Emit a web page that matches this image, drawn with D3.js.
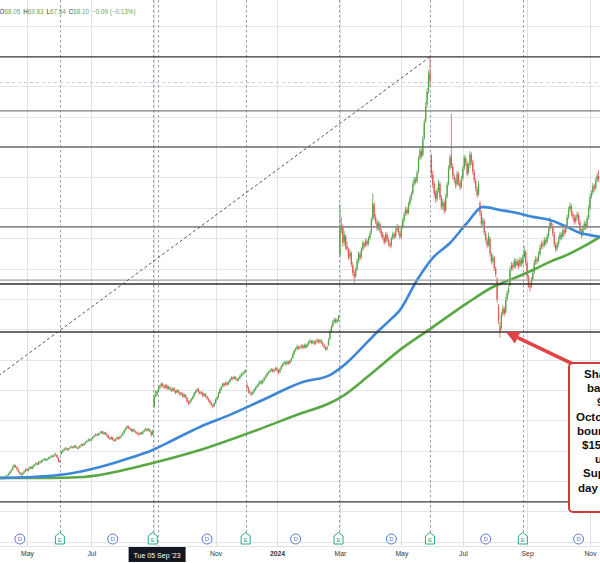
<!DOCTYPE html>
<html><head><meta charset="utf-8">
<script src="https://cdn.jsdelivr.net/npm/d3@7"></script>
<style>html,body{margin:0;padding:0;background:#fff;overflow:hidden}</style>
</head><body><svg id="c" width="600" height="563"></svg>
<script>
// ---- DATA (daily bars, index 0 = early April 2023) ----
const opens=[40.7,41.1,41.2,40.9,41.1,41.6,41.9,42.4,43.1,43.7,
44.6,45.1,44.5,43.7,42.9,42.3,42.1,42.7,43.3,43.9,
43.4,44.1,44.7,44.1,44.9,45.4,45.9,45.4,46.3,46.1,
46.5,47.0,47.2,46.9,47.3,47.5,48.0,48.2,48.1,48.7,
48.6,47.7,46.6,48.9,49.6,50.1,50.5,50.7,50.3,50.7,
51.1,51.2,51.0,51.6,51.1,50.7,51.1,51.7,52.1,51.8,
52.4,52.9,53.3,53.7,53.4,54.0,54.5,55.0,55.4,55.1,
55.6,55.9,56.3,55.5,56.0,55.3,54.9,54.3,53.8,54.3,
53.5,53.3,53.9,54.4,54.0,54.6,55.1,55.9,56.7,57.4,
58.0,57.4,57.1,56.4,57.0,56.3,56.1,55.5,55.4,56.0,
55.6,56.3,56.9,57.1,56.7,56.9,56.2,55.3,64.5,68.05,
68.3,69.6,70.7,71.3,71.9,71.3,70.9,71.4,70.5,70.8,
70.1,69.9,70.4,69.5,69.2,69.8,69.1,68.6,68.8,67.9,
68.3,67.4,66.1,65.7,66.5,67.1,67.9,69.0,69.7,70.1,
69.3,68.9,69.0,68.1,68.5,67.8,67.1,66.4,65.7,64.9,
64.7,65.7,66.9,67.6,69.0,70.3,71.1,72.0,71.7,72.3,
71.9,72.7,73.5,74.0,73.8,74.2,73.5,73.2,73.9,74.6,
75.1,75.5,76.1,71.5,70.7,69.5,68.9,68.7,69.4,70.2,
70.9,71.5,72.1,72.7,72.4,73.2,74.0,74.7,75.5,76.0,
76.4,76.7,76.2,76.7,77.1,76.3,75.9,77.0,77.9,78.7,
79.0,78.6,79.2,78.9,79.7,80.6,81.9,83.0,83.6,84.2,
83.8,84.1,84.5,84.0,84.7,84.2,85.0,85.7,86.1,85.6,
85.9,85.3,86.0,86.3,85.8,86.2,85.5,84.7,84.0,83.5,
84.8,86.8,89.4,91.0,92.5,93.2,92.4,93.1,114.5,123.0,
123.8,118.8,120.6,117.4,116.2,114.0,115.0,111.1,108.3,107.5,
109.8,112.6,114.6,113.8,116.4,118.2,117.7,119.0,118.3,120.0,
121.8,126.4,130.8,126.8,125.2,123.4,124.6,122.3,121.2,120.0,
118.9,121.1,119.4,118.0,117.7,120.0,121.2,120.7,122.8,123.6,
121.7,120.6,123.7,126.0,128.1,129.4,128.5,131.4,133.2,134.8,
138.0,139.2,138.8,142.0,146.5,148.6,147.4,153.0,158.6,164.0,
168.6,174.5,146.8,141.0,137.8,134.9,133.0,135.7,137.9,133.4,
130.5,131.6,129.3,133.7,138.0,143.2,147.0,143.6,140.2,139.0,
137.8,141.0,138.2,137.0,139.8,143.0,146.2,144.6,141.6,144.0,
147.4,145.0,141.8,138.8,136.2,134.5,131.5,128.1,124.9,125.5,
121.6,119.2,117.9,119.8,114.7,112.6,113.3,109.9,106.5,97.5,
91.0,90.5,95.2,96.6,95.6,99.9,102.1,104.5,109.9,111.0,
110.6,112.3,111.2,112.1,111.0,112.7,111.8,114.0,115.3,111.7,
107.1,104.4,104.1,106.4,108.8,112.0,113.0,112.7,114.8,117.0,
118.0,117.7,119.2,118.8,120.7,123.0,124.9,124.0,121.2,117.8,
116.6,118.0,119.8,121.0,120.6,122.4,122.0,123.7,127.0,129.6,
130.4,128.0,126.9,125.6,126.8,127.6,125.3,122.2,121.2,123.4,
124.6,123.8,126.7,130.0,133.7,135.0,137.0,136.6,139.1,140.4];
const highs=[41.4,41.7,41.5,41.5,41.8,42.1,42.6,43.3,43.9,44.9,
45.6,45.4,44.8,44.0,43.2,42.7,42.9,43.5,44.1,44.2,
44.3,44.9,44.9,45.1,45.6,46.1,46.1,46.5,46.6,46.9,
47.2,47.6,47.5,47.5,47.9,48.2,48.6,48.5,48.9,49.3,
48.8,47.9,47.0,50.0,50.5,50.8,51.2,51.0,50.9,51.4,
51.7,51.5,51.8,51.9,51.4,51.3,51.9,52.4,52.3,52.6,
53.1,53.6,54.0,53.9,54.2,54.8,55.3,55.7,55.6,55.9,
56.3,56.7,56.5,56.2,56.2,55.6,55.1,54.5,54.7,54.6,
53.8,54.1,54.7,54.6,54.9,55.4,56.1,57.0,57.7,58.4,
58.2,57.7,57.3,57.2,57.2,56.6,56.3,55.8,56.2,56.2,
56.5,57.1,57.6,57.4,57.4,57.2,56.5,56.9,68.5,69.83,
69.9,71.2,71.8,72.6,72.3,71.7,72.0,71.8,71.4,71.2,
70.6,70.9,70.8,69.9,70.3,70.1,69.5,69.4,69.1,68.8,
68.6,67.7,66.5,66.8,67.4,68.2,69.3,70.0,70.7,70.5,
69.7,69.6,69.3,69.0,68.9,68.1,67.4,66.7,66.0,65.3,
66.0,67.2,67.9,69.3,70.6,71.4,72.5,72.4,72.8,72.7,
73.0,73.8,74.5,74.4,74.7,74.5,73.9,74.2,74.9,75.6,
75.9,76.5,76.9,72.4,71.1,69.9,69.2,69.7,70.5,71.2,
71.8,72.4,73.2,73.1,73.5,74.3,75.0,75.8,76.3,76.8,
77.3,77.1,77.0,77.7,77.5,76.7,77.3,78.2,79.0,79.6,
79.4,79.7,79.6,80.0,80.8,82.3,83.4,84.0,84.9,84.6,
84.5,85.1,84.9,85.3,85.1,85.4,86.1,86.8,86.5,86.5,
86.3,86.4,87.0,86.7,86.9,86.6,85.9,85.1,84.4,84.6,
87.0,89.8,91.4,93.0,93.8,93.6,93.6,94.7,131.2,126.8,
124.5,122.4,121.3,118.9,116.9,116.3,115.6,112.0,109.4,110.4,
113.3,115.6,115.4,117.0,119.2,118.9,120.0,119.6,120.6,122.3,
126.8,134.8,131.6,127.9,126.0,125.7,125.3,123.1,122.0,120.8,
122.1,121.9,120.2,118.8,120.6,122.2,121.9,123.4,124.7,124.3,
122.5,124.3,126.6,128.8,130.4,130.2,132.0,133.9,135.4,138.7,
140.3,140.1,142.4,147.1,149.8,149.4,153.5,159.2,164.8,169.4,
175.2,179.7,147.9,142.2,138.6,135.8,136.6,139.3,138.7,134.2,
132.9,132.4,134.5,138.6,143.9,147.6,160.9,144.6,141.0,139.8,
142.2,141.8,139.0,140.6,143.8,147.5,147.0,145.4,144.8,148.7,
148.2,145.8,142.6,139.6,137.0,138.9,132.3,128.9,126.9,126.3,
122.4,120.0,121.9,120.5,115.5,114.7,114.1,110.7,107.2,98.4,
92.4,95.8,97.9,97.4,100.6,102.8,104.5,110.6,112.2,111.8,
113.5,113.1,113.3,112.9,113.9,113.5,114.8,117.4,116.1,112.5,
107.9,105.3,107.2,109.5,112.8,114.2,113.8,115.6,117.8,119.2,
118.8,120.4,120.0,121.5,123.8,127.0,125.7,124.8,122.0,118.6,
118.8,120.6,122.2,121.8,123.6,123.2,124.5,127.8,130.4,131.8,
131.2,128.8,127.7,127.6,128.8,128.4,126.1,123.0,124.2,125.8,
125.4,127.5,130.8,134.5,135.8,138.2,137.8,139.9,141.6,142.4];
const lows=[40.4,40.8,40.5,40.6,40.9,41.3,41.7,42.1,42.8,43.5,
44.3,44.3,43.5,42.7,42.0,41.7,41.9,42.4,43.0,43.2,
43.2,43.8,43.9,43.9,44.6,45.1,45.2,45.2,45.7,45.8,
46.3,46.7,46.5,46.6,47.0,47.3,47.7,47.7,47.9,48.4,
47.5,46.2,45.9,48.5,49.2,49.8,50.2,49.9,50.0,50.4,
50.8,50.6,50.8,50.9,50.5,50.4,50.9,51.4,51.4,51.6,
52.1,52.6,53.0,53.0,53.2,53.7,54.2,54.7,54.7,54.8,
55.3,55.6,55.3,55.2,55.1,54.5,53.9,53.5,53.6,53.3,
52.9,53.0,53.6,53.6,53.8,54.3,54.9,55.6,56.4,57.1,
57.1,56.7,56.2,56.1,56.1,55.7,55.3,54.9,55.1,55.2,
55.3,56.0,56.6,56.3,56.4,56.0,54.6,55.0,64.0,67.54,
68.0,69.2,70.2,70.9,70.8,70.3,70.5,70.0,70.1,69.8,
69.3,69.5,69.2,68.6,68.9,68.8,68.1,68.2,67.4,67.5,
67.1,65.8,65.0,65.3,66.1,66.8,67.6,68.6,69.3,69.0,
68.4,68.5,67.6,67.7,67.5,66.8,66.1,65.4,64.6,63.9,
64.3,65.4,66.5,67.3,68.7,69.9,70.8,71.1,71.3,71.4,
71.6,72.3,73.1,73.2,73.4,73.2,72.7,72.9,73.5,74.2,
74.7,75.1,75.6,70.1,68.9,68.4,68.0,68.3,69.0,69.8,
70.5,71.1,71.7,71.8,72.0,72.8,73.6,74.3,75.1,75.6,
76.0,75.6,75.8,76.3,75.9,75.2,75.5,76.6,77.5,78.3,
78.0,78.2,78.3,78.5,79.3,80.3,81.5,82.6,83.2,83.2,
83.3,83.7,83.4,83.6,83.6,83.8,84.6,85.3,85.0,85.2,
84.7,84.9,85.6,85.2,85.4,85.1,84.3,83.6,82.8,83.0,
84.5,86.4,88.9,90.5,92.0,91.8,91.9,92.6,113.8,121.5,
117.2,117.6,116.1,115.6,112.8,113.1,110.6,107.6,105.3,106.8,
109.2,111.8,112.5,113.1,115.8,116.6,117.0,117.2,117.6,119.3,
121.2,125.6,126.1,124.6,122.4,122.6,121.7,120.2,119.4,117.9,
118.2,118.8,117.3,116.6,117.0,119.4,119.7,120.0,122.1,121.1,
119.6,120.0,123.0,125.3,127.4,127.5,127.8,130.6,132.4,134.1,
137.2,137.7,138.1,141.3,145.7,146.1,146.8,152.2,157.8,162.9,
167.6,170.1,139.6,136.4,133.5,131.6,132.2,135.0,132.6,129.3,
129.6,128.0,128.6,133.0,137.3,142.4,143.0,139.4,138.2,136.4,
137.1,137.4,135.8,136.3,139.1,142.3,143.8,140.3,140.9,143.2,
144.2,141.0,138.1,135.4,133.2,133.8,127.4,123.6,123.8,120.9,
118.5,116.6,117.2,114.0,111.3,111.8,109.2,107.1,98.8,91.6,
87.2,89.8,94.4,94.2,95.0,99.2,101.4,104.0,109.2,109.4,
110.0,110.0,110.6,109.8,110.4,110.6,111.2,113.3,111.0,106.4,
103.6,102.4,103.5,105.8,108.2,111.3,111.5,112.1,114.2,116.3,
116.5,117.0,117.6,118.1,120.0,122.3,123.3,120.5,117.0,115.4,
115.9,117.3,119.1,119.4,120.0,120.8,121.3,123.0,126.3,128.9,
127.2,126.1,124.4,124.9,126.1,124.5,121.4,120.0,120.5,122.7,
122.6,123.1,126.0,129.3,133.0,134.3,135.4,135.9,138.4,138.5];
const closes=[41.0,41.3,40.8,41.2,41.5,41.8,42.3,43.0,43.6,44.5,
45.2,44.6,43.8,43.0,42.4,42.0,42.6,43.2,43.8,43.5,
44.0,44.6,44.2,44.8,45.3,45.8,45.5,46.2,46.0,46.6,
46.9,47.3,46.8,47.2,47.6,47.9,48.3,48.0,48.6,48.9,
47.8,46.5,46.3,49.5,50.0,50.4,50.8,50.2,50.6,51.0,
51.3,50.9,51.5,51.2,50.8,51.0,51.6,52.0,51.7,52.3,
52.8,53.2,53.6,53.3,53.9,54.4,54.9,55.3,55.0,55.5,
55.8,56.2,55.6,55.9,55.4,54.8,54.2,53.9,54.4,53.6,
53.2,53.8,54.3,53.9,54.5,55.0,55.8,56.6,57.3,57.9,
57.5,57.0,56.5,56.9,56.4,56.0,55.6,55.3,55.9,55.5,
56.2,56.8,57.2,56.6,57.0,56.3,55.2,56.4,67.7,68.10,
69.5,70.6,71.2,72.0,71.4,70.8,71.5,70.4,70.9,70.2,
69.8,70.5,69.6,69.1,69.9,69.2,68.5,68.9,67.8,68.4,
67.5,66.2,65.6,66.4,67.0,67.8,68.9,69.6,70.2,69.4,
68.8,69.1,68.0,68.6,67.9,67.2,66.5,65.8,65.0,64.6,
65.6,66.8,67.5,68.9,70.2,71.0,72.1,71.6,72.4,71.8,
72.6,73.4,74.1,73.7,74.3,73.6,73.1,73.8,74.5,75.2,
75.4,76.0,76.3,70.8,69.6,69.0,68.6,69.3,70.1,70.8,
71.4,72.0,72.8,72.3,73.1,73.9,74.6,75.4,75.9,76.3,
76.8,76.1,76.6,77.2,76.4,75.8,76.9,77.8,78.6,79.1,
78.5,79.3,78.8,79.6,80.3,81.8,82.9,83.5,84.3,83.7,
84.0,84.6,83.9,84.8,84.1,84.9,85.6,86.2,85.5,86.0,
85.2,85.9,86.4,85.7,86.3,85.6,84.8,84.1,83.4,84.0,
86.5,89.2,90.8,92.4,93.1,92.5,93.0,94.0,123.7,124.3,
118.5,121.0,117.2,116.5,113.8,115.2,111.4,108.5,107.3,109.6,
112.4,114.8,113.5,116.2,118.4,117.5,119.2,118.1,119.8,121.5,
126.0,131.5,127.0,125.4,123.2,124.8,122.5,121.0,120.2,118.7,
121.3,119.6,118.2,117.5,119.8,121.4,120.5,122.6,123.8,121.9,
120.4,123.5,125.8,127.9,129.6,128.3,131.2,133.0,134.5,137.8,
139.4,138.6,141.5,146.2,148.8,147.0,152.5,158.0,163.5,168.2,
173.8,172.0,141.2,137.5,134.6,132.8,135.5,138.2,133.6,130.2,
131.8,129.0,133.4,137.6,142.8,146.5,144.0,140.5,139.2,137.5,
141.2,138.4,136.8,139.5,142.8,146.4,144.9,141.3,143.7,147.6,
145.2,142.0,139.1,136.5,134.2,137.8,128.4,124.6,125.8,121.9,
119.5,117.6,120.8,115.0,112.3,113.6,110.2,108.1,99.8,92.6,
89.4,94.8,96.9,95.2,99.6,101.8,103.5,109.6,111.2,110.4,
112.5,111.0,112.3,110.8,112.9,111.6,113.8,115.6,112.0,107.4,
104.6,103.9,106.2,108.5,111.8,113.2,112.5,114.6,116.8,118.2,
117.5,119.4,118.6,120.5,122.8,125.1,124.3,121.5,118.0,116.4,
117.8,119.6,121.2,120.4,122.6,121.8,123.5,126.8,129.4,130.6,
128.2,127.1,125.4,126.6,127.8,125.5,122.4,121.0,123.2,124.8,
123.6,126.5,129.8,133.5,134.8,137.2,136.4,138.9,140.6,139.5];

// moving averages: [bar index, value]
const maBlue=[[0,41.0],[23,41.3],[47,42.3],[70,44.6],[93,47.9],[107,50.2],[117,52.5],[140,57.8],[161,61.8],[184,66.7],[212,72.6],[231,74.9],[241,78.2],[252,83.2],[262,88.1],[273,93.0],[280,96.3],[292,106.2],[303,113.5],[315,118.4],[327,125.0],[338,130.3],[350,129.3],[362,128.3],[373,127.0],[385,126.0],[397,123.7],[406,121.7],[413,121.0],[420,120.4]];
const maGreen=[[0,41.0],[35,41.0],[58,41.3],[70,42.0],[93,44.3],[107,45.9],[140,50.2],[184,57.5],[208,61.8],[231,65.7],[238,67.4],[259,75.0],[280,83.2],[303,90.7],[327,98.6],[345,103.9],[362,107.2],[373,109.5],[385,112.2],[397,114.5],[408,117.1],[420,120.4]];

// time axis
const monthTickIdx=[19,64,108,151,194,238,281,324,369,413];
const monthTickLabels=["May","Jul","Sep","Nov","2024","Mar","May","Jul","Sep","Nov"];
const earningsIdx=[42,107,172,237,301,366];
const dividendIdx=[14,79,145,207,274,340,405];

// drawings
const levelPrices=[179.7,161.9,150.0,123.7,106.2,104.9,89.1,33.1];
const trendIdx=[-4,301];
const trendVal=[73.6,179.7];
const crossIdx=109, crossPrice=171.4;
const headerVals=["68.05","69.83","67.54","68.10","−0.09 (−0.13%)"];
const tooltipText="Tue 05 Sep '23";
const noteLines=["Shares","back to","9 and","October","bounced","$155","up","Support","day MA"];

// ---- RENDER ----
const W=600,H=563,plotBottom=546;
const svg=d3.select('#c');
const x=d3.scaleLinear().domain([19,413]).range([27,590]);
const y=d3.scaleLinear().domain([180,40]).range([56,481]);
const font='"Liberation Sans", Arial, sans-serif';
svg.append('rect').attr('width',W).attr('height',H).attr('fill','#fff');
svg.append('defs').append('clipPath').attr('id','plot').append('rect')
  .attr('x',0).attr('y',0).attr('width',W).attr('height',plotBottom);
const g=svg.append('g').attr('clip-path','url(#plot)');
const px=v=>Math.round(v)+0.5;

// grid
g.append('g').selectAll('line').data(d3.range(20,200,10)).join('line')
  .attr('x1',0).attr('x2',W).attr('y1',d=>px(y(d))).attr('y2',d=>px(y(d)))
  .attr('stroke','#e4e6ec').attr('stroke-width',1);
g.append('g').selectAll('line').data(monthTickIdx).join('line')
  .attr('x1',d=>px(x(d))).attr('x2',d=>px(x(d))).attr('y1',0).attr('y2',plotBottom)
  .attr('stroke','#dfe2e8').attr('stroke-width',1);

// earnings dashed lines
g.append('g').selectAll('line').data(earningsIdx).join('line')
  .attr('x1',d=>px(x(d))).attr('x2',d=>px(x(d))).attr('y1',0).attr('y2',533)
  .attr('stroke','#8fa0b4').attr('stroke-width',1).attr('stroke-dasharray','2.5,2.5');

// crosshair
g.append('line').attr('x1',px(x(crossIdx))+2).attr('x2',px(x(crossIdx))+2).attr('y1',0).attr('y2',plotBottom)
  .attr('stroke','#9aa3ae').attr('stroke-width',1).attr('stroke-dasharray','2.5,2.5');
g.append('line').attr('x1',0).attr('x2',W).attr('y1',px(y(crossPrice))).attr('y2',px(y(crossPrice)))
  .attr('stroke','#c9ccd2').attr('stroke-width',1).attr('stroke-dasharray','3,3');

// candles
const bars=closes.map((c,i)=>({i,o:opens[i],h:highs[i],l:lows[i],c}));
const up='#55a44a', dn='#de5b55';
const cg=g.append('g');
cg.selectAll('line').data(bars).join('line')
  .attr('x1',d=>x(d.i)).attr('x2',d=>x(d.i))
  .attr('y1',d=>y(d.h)).attr('y2',d=>y(d.l))
  .attr('stroke',d=>d.c>=d.o?up:dn).attr('stroke-width',0.8);
cg.selectAll('rect').data(bars).join('rect')
  .attr('x',d=>x(d.i)-0.65).attr('width',1.3)
  .attr('y',d=>y(Math.max(d.o,d.c)))
  .attr('height',d=>Math.max(0.8,Math.abs(y(d.o)-y(d.c))))
  .attr('fill',d=>d.c>=d.o?up:dn);

// moving averages
const line=d3.line().x(d=>x(d[0])).y(d=>y(d[1])).curve(d3.curveMonotoneX);
g.append('path').attr('d',line(maGreen)).attr('fill','none').attr('stroke','#5aa845').attr('stroke-width',2.6).attr('stroke-linejoin','round');
g.append('path').attr('d',line(maBlue)).attr('fill','none').attr('stroke','#3c87d8').attr('stroke-width',2.6).attr('stroke-linejoin','round');

// horizontal level drawings
const lvlColor=['#3a3a3a','#7d7d7d','#6e6e6e','#8c8c8c','#a0a0a0','#2e2e2e','#3a3a3a','#3a3a3a'];
const lvlWidth=[1.4,1.3,1.6,1.6,1.2,1.5,1.4,1.3];
g.append('g').selectAll('line').data(levelPrices).join('line')
  .attr('x1',0).attr('x2',W).attr('y1',d=>y(d)).attr('y2',d=>y(d))
  .attr('stroke',(d,i)=>lvlColor[i]).attr('stroke-width',(d,i)=>lvlWidth[i]);

// trend line
g.append('line').attr('x1',x(trendIdx[0])).attr('y1',y(trendVal[0]))
  .attr('x2',x(trendIdx[1])).attr('y2',y(trendVal[1]))
  .attr('stroke','#555').attr('stroke-width',1).attr('stroke-dasharray','3,2.5');

// axis separator
svg.append('line').attr('x1',0).attr('x2',W).attr('y1',plotBottom+0.5).attr('y2',plotBottom+0.5).attr('stroke','#e0e3eb');

// markers
const mk=svg.append('g');
earningsIdx.forEach(d=>{
  const cx=x(d);
  mk.append('path').attr('d',`M${cx-4.5},536 L${cx},532.5 L${cx+4.5},536 L${cx+4.5},544 L${cx-4.5},544 Z`)
    .attr('fill','#fff').attr('stroke','#2ea58c').attr('stroke-width',1);
  mk.append('text').attr('x',cx).attr('y',542.3).attr('text-anchor','middle')
    .attr('font-family',font).attr('font-size',6).attr('fill','#2ea58c').text('E');
});
dividendIdx.forEach(d=>{
  const cx=x(d);
  mk.append('circle').attr('cx',cx).attr('cy',539).attr('r',5)
    .attr('fill','#fff').attr('stroke','#5a78c8').attr('stroke-width',1);
  mk.append('text').attr('x',cx).attr('y',541.2).attr('text-anchor','middle')
    .attr('font-family',font).attr('font-size',6).attr('fill','#5a78c8').text('D');
});

// tooltip geometry (time-axis label of the crosshair)
const tx=x(crossIdx)+1.5, tipW=57;

// month labels via axis (the one under the crosshair label is hidden, as in the reference)
const shownTicks=monthTickIdx.filter(d=>Math.abs(x(d)-tx)>tipW/2+8);
const ax=svg.append('g').attr('transform',`translate(0,${plotBottom})`)
  .call(d3.axisBottom(x).tickValues(shownTicks).tickFormat(d=>monthTickLabels[monthTickIdx.indexOf(d)]).tickSize(0).tickPadding(5));
ax.select('.domain').remove();
ax.selectAll('text').attr('font-family',font).attr('font-size',6.8).attr('fill','#333')
  .attr('font-weight',d=>monthTickLabels[monthTickIdx.indexOf(d)]==='2024'?'bold':'normal');

svg.append('rect').attr('x',tx-tipW/2).attr('y',547).attr('width',tipW).attr('height',15).attr('fill','#131722');
svg.append('text').attr('x',tx).attr('y',557.5).attr('text-anchor','middle')
  .attr('font-family',font).attr('font-size',7).attr('fill','#fff').text(tooltipText);

// header OHLC
const hdr=svg.append('text').attr('x',-0.5).attr('y',13.5).attr('font-family',font).attr('font-size',6.3);
[['O',headerVals[0]],['H',headerVals[1]],['L',headerVals[2]],['C',headerVals[3]]].forEach(([k,v],i)=>{
  hdr.append('tspan').attr('fill','#333').attr('dx',i?3:0).text(k);
  hdr.append('tspan').attr('fill','#6aa45e').text(v);
});
hdr.append('tspan').attr('fill','#6aa45e').attr('dx',3).text(headerVals[4]);

// annotation
const boxL=x(398.3), boxT=y(78.9), boxB=y(29.8);
const ann=svg.append('g');
const tipX=x(354.2), tipY=y(89.1), tailX=x(403.4), tailY=y(78.0);
const ang=Math.atan2(tailY-tipY, tailX-tipX);
const hl=13, hw=6.5;
const bx=tipX+hl*Math.cos(ang), by=tipY+hl*Math.sin(ang);
ann.append('line').attr('x1',bx).attr('y1',by).attr('x2',tailX).attr('y2',tailY)
  .attr('stroke','#e04444').attr('stroke-width',3.6);
ann.append('path').attr('d',`M${tipX},${tipY} L${bx-hw*Math.sin(ang)},${by+hw*Math.cos(ang)} L${bx+hw*Math.sin(ang)},${by-hw*Math.cos(ang)} Z`)
  .attr('fill','#e04444');
ann.append('rect').attr('x',boxL).attr('y',boxT).attr('width',80).attr('height',boxB-boxT)
  .attr('rx',4).attr('fill','#fff').attr('stroke','#d33a3a').attr('stroke-width',2);
const lineX=[15,18,28,7,8,13,26,14,9];
noteLines.forEach((t,i)=>{
  ann.append('text').attr('x',boxL+lineX[i]).attr('y',boxT+15+i*14.2)
    .attr('font-family',font).attr('font-size',11.5).attr('font-weight','bold').attr('fill','#111').text(t);
});
</script></body></html>
